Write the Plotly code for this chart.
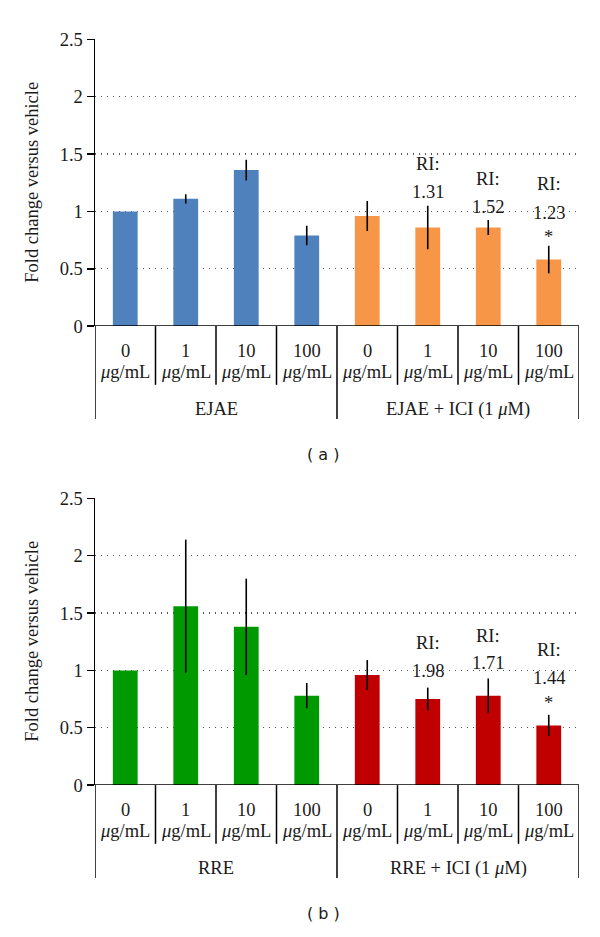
import plotly.graph_objects as go

# ---------------- data ----------------
dose_labels = ["0", "1", "10", "100", "0", "1", "10", "100"]
unit_label = "<i>μ</i>g/mL"

groups_a = ["EJAE", "EJAE + ICI (1 <i>μ</i>M)"]
vals_a_plain = [1.00, 1.11, 1.36, 0.79]
errs_a_plain = [0.0, 0.04, 0.09, 0.085]
vals_a_ici = [0.96, 0.86, 0.86, 0.58]
errs_a_ici = [0.13, 0.19, 0.065, 0.12]
ri_a = ["1.31", "1.52", "1.23"]

groups_b = ["RRE", "RRE + ICI (1 <i>μ</i>M)"]
vals_b_plain = [1.00, 1.56, 1.38, 0.78]
errs_b_plain = [0.0, 0.58, 0.42, 0.11]
vals_b_ici = [0.96, 0.75, 0.78, 0.52]
errs_b_ici = [0.13, 0.10, 0.15, 0.093]
ri_b = ["1.98", "1.71", "1.44"]

y_ticks = [0, 0.5, 1, 1.5, 2, 2.5]
y_tick_text = ["0", "0.5", "1", "1.5", "2", "2.5"]

# ---------------- layout helpers ----------------
W, H = 600, 937
SERIF = "Liberation Serif"
FS = 18.5
TXT = "#1a1a1a"

def py(pix):
    return 1 - pix / H

def px(pix):
    return pix / W

fig = go.Figure()

panels = [
    dict(ax="", top=30, bot=323, plain=vals_a_plain, eplain=errs_a_plain, ici=vals_a_ici, eici=errs_a_ici,
         c1="#4F81BD", c2="#F79646", groups=groups_a, ri=ri_a, label="( a )",
         ri_y=[1.416, 1.28, 1.237], num_y=[1.169, 1.041, 0.99], star_y=0.776),
    dict(ax="2", top=499, bot=792, plain=vals_b_plain, eplain=errs_b_plain, ici=vals_b_ici, eici=errs_b_ici,
         c1="#009A00", c2="#C00000", groups=groups_b, ri=ri_b, label="( b )",
         ri_y=[1.240, 1.297, 1.175], num_y=[0.998, 1.064, 0.933], star_y=0.714),
]

annotations = []
shapes = []
layout_axes = {}

for p in panels:
    xa = "x" + p["ax"]
    ya = "y" + p["ax"]
    xs_plain = [0, 1, 2, 3]
    xs_ici = [4, 5, 6, 7]
    fig.add_trace(go.Bar(x=xs_plain, y=p["plain"], xaxis=xa, yaxis=ya, width=0.41,
                         marker=dict(color=p["c1"], line=dict(width=0)),
                         error_y=dict(type="data", array=p["eplain"], color="black", thickness=1.6, width=0,
                                      visible=True),
                         showlegend=False, hoverinfo="skip"))
    fig.add_trace(go.Bar(x=xs_ici, y=p["ici"], xaxis=xa, yaxis=ya, width=0.41,
                         marker=dict(color=p["c2"], line=dict(width=0)),
                         error_y=dict(type="data", array=p["eici"], color="black", thickness=1.6, width=0,
                                      visible=True),
                         showlegend=False, hoverinfo="skip"))

    xkey = "xaxis" + p["ax"]
    ykey = "yaxis" + p["ax"]
    layout_axes[xkey] = dict(domain=[px(95), px(579)], range=[-0.5, 7.5], showgrid=False, zeroline=False,
                             showticklabels=False, ticks="", showline=False, anchor=ya, fixedrange=True)
    layout_axes[ykey] = dict(domain=[py(p["bot"]), py(p["top"])], range=[0, 2.5], tickvals=y_ticks,
                             ticktext=y_tick_text, showgrid=True, gridcolor="#555555", griddash="1px,5px",
                             gridwidth=1.3, zeroline=False, showline=True, linecolor="black", linewidth=1.5,
                             ticks="outside", ticklen=7, tickcolor="black", tickwidth=1.5,
                             tickfont=dict(family=SERIF, size=FS, color=TXT), anchor=xa, fixedrange=True)

    # x axis baseline
    shapes.append(dict(type="line", xref=xa, yref=ya, x0=-0.5, x1=7.5, y0=0, y1=0,
                       line=dict(color="black", width=1.8)))
    # category dividers
    bot = p["bot"]
    for i in range(9):
        xv = i - 0.5
        long = i in (0, 4, 8)
        end = bot + (95 if long else 60)
        shapes.append(dict(type="line", xref=xa, yref="paper", x0=xv, x1=xv, y0=py(bot), y1=py(end),
                           line=dict(color="black", width=1.5)))
    # category labels
    for i, d in enumerate(dose_labels):
        annotations.append(dict(x=i, xref=xa, y=py(bot + 25), yref="paper", text=d, showarrow=False,
                                font=dict(family=SERIF, size=FS, color=TXT), yanchor="middle"))
        annotations.append(dict(x=i, xref=xa, y=py(bot + 47), yref="paper", text=unit_label, showarrow=False,
                                font=dict(family=SERIF, size=FS, color=TXT), yanchor="middle"))
    for gi, g in enumerate(p["groups"]):
        annotations.append(dict(x=1.5 + 4 * gi, xref=xa, y=py(bot + 85), yref="paper", text=g, showarrow=False,
                                font=dict(family=SERIF, size=FS, color=TXT), yanchor="middle"))
    # RI annotations
    for k in range(3):
        annotations.append(dict(x=5 + k, xref=xa, y=p["ri_y"][k], yref=ya, text="RI:", showarrow=False,
                                font=dict(family=SERIF, size=FS, color=TXT), yanchor="middle"))
        annotations.append(dict(x=5 + k, xref=xa, y=p["num_y"][k], yref=ya, text=p["ri"][k], showarrow=False,
                                font=dict(family=SERIF, size=FS, color=TXT), yanchor="middle"))
    annotations.append(dict(x=7, xref=xa, y=p["star_y"], yref=ya, text="*", showarrow=False,
                            font=dict(family=SERIF, size=FS, color=TXT), yanchor="middle"))
    # y title
    annotations.append(dict(x=px(32), xref="paper", y=py((p["top"] + bot) / 2), yref="paper",
                            text="Fold change versus vehicle", textangle=-90, showarrow=False,
                            font=dict(family=SERIF, size=FS, color=TXT), xanchor="center", yanchor="middle"))
    # panel label
    annotations.append(dict(x=px(323), xref="paper", y=py(bot + 131), yref="paper", text=p["label"],
                            showarrow=False, font=dict(family="DejaVu Sans", size=16, color=TXT),
                            yanchor="middle"))

fig.update_layout(width=W, height=H, margin=dict(l=0, r=0, t=0, b=0), plot_bgcolor="white",
                  paper_bgcolor="white", barmode="overlay", annotations=annotations, shapes=shapes,
                  hovermode=False, **layout_axes)

fig.write_html("out.html", config={"displayModeBar": False, "staticPlot": True},
               post_script="document.body.style.margin='0';document.body.style.overflow='hidden';")
